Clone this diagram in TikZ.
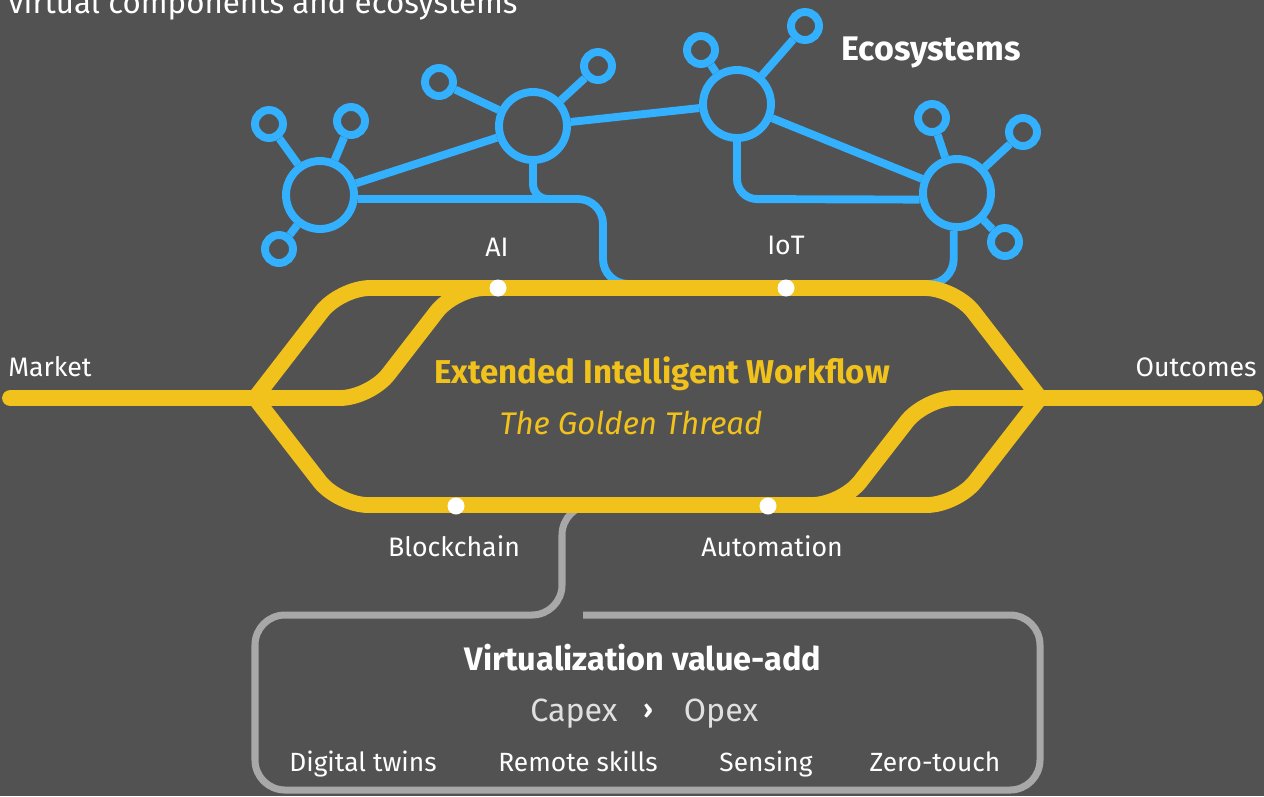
\documentclass[tikz,border=0pt]{standalone}
\usepackage{fontspec}
\setmainfont{Fira Sans}
\usetikzlibrary{positioning}

\definecolor{bg}{HTML}{525252}
\definecolor{thread}{HTML}{F1C21B}
\definecolor{eco}{HTML}{33B1FF}
\definecolor{frame}{HTML}{A8A8A8}
\definecolor{soft}{HTML}{E0E0E0}

\newcommand\pxsize[1]{\fontsize{#1}{#1}\selectfont}

\tikzset{
	hub/.style={circle, draw=eco, line width=4.5pt, minimum size=1.36cm, inner sep=0pt},
	leaf/.style={circle, draw=eco, line width=4.5pt, minimum size=0.56cm, inner sep=0pt},
	link/.style={draw=eco, line width=4.5pt},
	track/.style={draw=thread, line width=9pt, line cap=round, rounded corners=0.6cm},
	wall/.style={draw=frame, line width=4pt, rounded corners=0.6cm},
	stopdot/.style={circle, fill=white, minimum size=0.34cm, inner sep=0pt},
	lbl/.style={text=white, anchor=base, font=\pxsize{15.2}},
	boxlbl/.style={text=white, anchor=base, font=\pxsize{15}},
}

\begin{document}
\begin{tikzpicture}[x=0.02cm, y=-0.02cm]

	% canvas
	\useasboundingbox (0,0) rectangle (1264,796);
	\fill[bg] (0,0) rectangle (1264,796);

	% cut-off heading
	\node[text=white, anchor=base west, inner sep=0pt, font=\pxsize{17.8}] (heading) at (8,13) {virtual components and ecosystems};

	% hubs
	\node[hub] (h1) at (320,195) {};
	\node[hub] (h2) at (533,126) {};
	\node[hub] (h3) at (737,104) {};
	\node[hub] (h4) at (957,193) {};

	% leaves
	\node[leaf] (h1a) at (269,124) {};
	\node[leaf] (h1b) at (351,121) {};
	\node[leaf] (h1c) at (279,249) {};
	\node[leaf] (h2a) at (439,82) {};
	\node[leaf] (h2b) at (598,66) {};
	\node[leaf] (h3a) at (701,50) {};
	\node[leaf] (h3b) at (805,26) {};
	\node[leaf] (h4a) at (932,118) {};
	\node[leaf] (h4b) at (1023,132) {};
	\node[leaf] (h4c) at (1005,242) {};

	% spokes
	\draw[link] (h1) -- (h1a);
	\draw[link] (h1) -- (h1b);
	\draw[link] (h1) -- (h1c);
	\draw[link] (h2) -- (h2a);
	\draw[link] (h2) -- (h2b);
	\draw[link] (h3) -- (h3a);
	\draw[link] (h3) -- (h3b);
	\draw[link] (h4) -- (h4a);
	\draw[link] (h4) -- (h4b);
	\draw[link] (h4) -- (h4c);

	% hub to hub
	\draw[link] (h1) -- (h2);
	\draw[link] (h2) -- (h3);
	\draw[link] (h3) -- (h4);
	\draw[link, rounded corners=0.3cm] (h2.south) -- (h2.south |- 0,199) -- (575,199);
	\draw[link, rounded corners=0.4cm] (h3.south) -- (h3.south |- 0,199) -- (h4.190);

	% drops into the thread
	\draw[link, rounded corners=0.5cm] (h1.-6) -- (603,199) -- (603,284) -- (660,284);
	\draw[link, rounded corners=0.5cm] (h4.265) -- (h4.265 |- 0,284) -- (890,284);

	% value-add frame
	\draw[wall] (620,505) -- (562,505) -- (562,615) -- (255,615) -- (255,790) -- (1040,790) -- (1040,615) -- (583,615);

	% golden thread
	\draw[track] (10,398) -- (370,398) -- (455,288) -- (560,288);
	\draw[track] (255,398) -- (340,288) -- (955,288) -- (1040,398);
	\draw[track] (255,398) -- (338,505) -- (957,505) -- (1040,398);
	\draw[track] (1255,398) -- (925,398) -- (842,505) -- (700,505);

	% stops
	\node[stopdot] (ai) at (498,288) {};
	\node[stopdot] (iot) at (786,288) {};
	\node[stopdot] (chain) at (456,506) {};
	\node[stopdot] (auto) at (768,506) {};

	% stop labels
	\node[lbl] (ai-text) at (497,256) {AI};
	\node[lbl] (iot-text) at (786,254) {IoT};
	\node[lbl] (chain-text) at (454,556) {Blockchain};
	\node[lbl] (auto-text) at (772,556) {Automation};
	\node[lbl, anchor=base west, inner sep=0pt] (market) at (8,376) {Market};
	\node[lbl, anchor=base east, inner sep=0pt] (outcomes) at (1257,376) {Outcomes};

	% titles
	\node[text=white, anchor=base, font=\pxsize{19.4}\bfseries] (eco-title) at (931,60) {Ecosystems};
	\node[text=thread, anchor=base, font=\pxsize{18.8}\bfseries] (workflow) at (662,383) {Extended Intelligent Workflow};
	\node[text=thread, anchor=base, font=\pxsize{17.8}\itshape] (golden) at (631,434) {The Golden Thread};

	% frame texts
	\node[text=white, anchor=base, font=\pxsize{18.5}\bfseries] (value) at (643,670) {Virtualization value-add};
	\node[text=soft, anchor=base, font=\pxsize{18.3}] (capex) at (574,721) {Capex};
	\node[text=white, anchor=base, font=\pxsize{15}\bfseries] (arrow) at (648,718) {›};
	\node[text=soft, anchor=base, font=\pxsize{18.3}] (opex) at (721,721) {Opex};
	\node[boxlbl] (twins) at (363,771) {Digital twins};
	\node[boxlbl] (skills) at (578,771) {Remote skills};
	\node[boxlbl] (sensing) at (766,771) {Sensing};
	\node[boxlbl] (touch) at (935,771) {Zero-touch};

\end{tikzpicture}
\end{document}
